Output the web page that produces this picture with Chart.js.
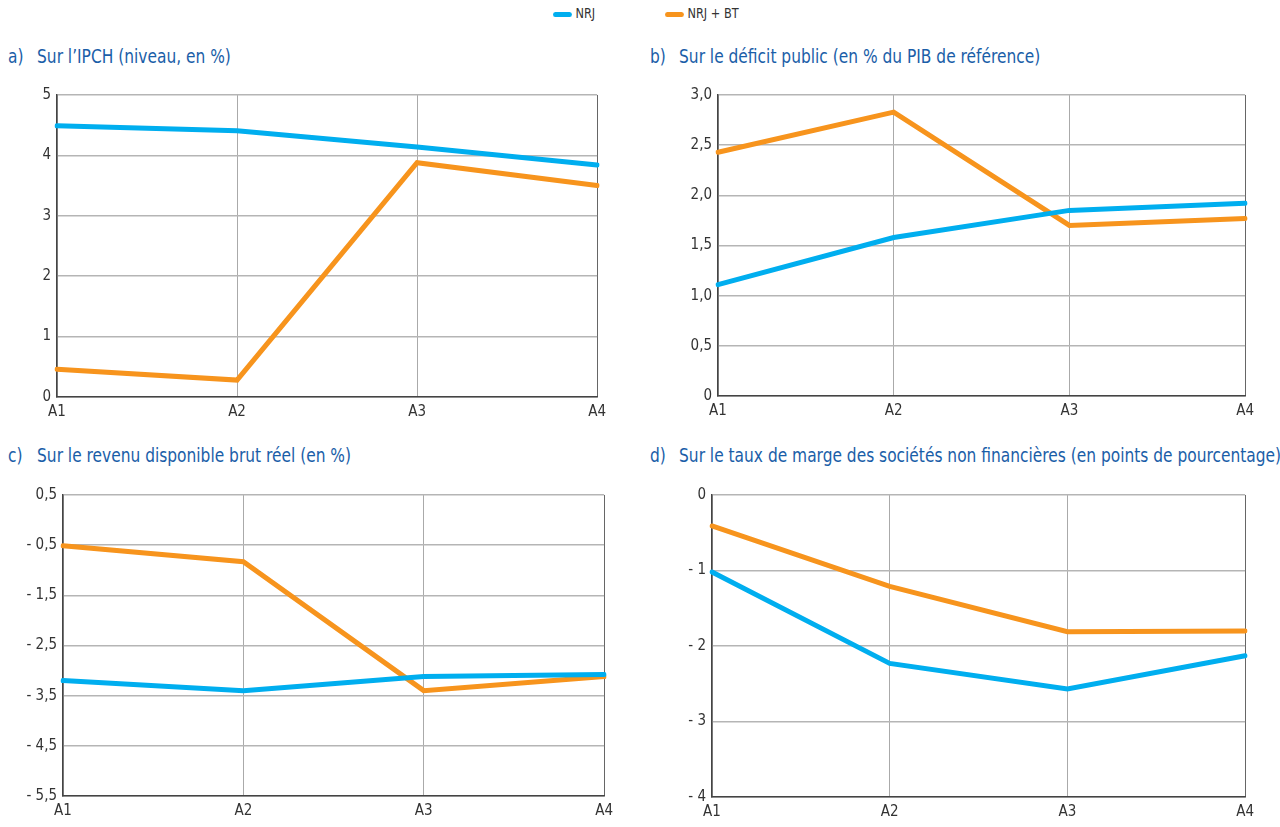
<!DOCTYPE html>
<html>
<head>
<meta charset="utf-8">
<script src="https://cdn.jsdelivr.net/npm/chart.js@4.4.1/dist/chart.umd.min.js"></script>
<style>
  body { margin: 0; background: #fff; width: 1280px; height: 827px; position: relative; overflow: hidden;
         font-family: 'Liberation Sans Narrow', 'DejaVu Sans Condensed', 'Roboto Condensed', 'Liberation Sans', sans-serif; }
  .legend { position: absolute; top: 5px; font-size: 14px; color: #333; transform: scaleX(0.9); transform-origin: left top; }
  .legend i { display: inline-block; width: 21px; height: 5px; border-radius: 3px; vertical-align: middle; margin-right: 4px; }
  .title { position: absolute; font-size: 19.5px; color: #1a5ea8; white-space: nowrap; transform: scaleX(0.88); transform-origin: left top; }
  .title span { display: inline-block; width: 33px; }
  canvas { position: absolute; }
</style>
</head>
<body>
<div class="legend" style="left:553px"><i style="background:#00aeef"></i>NRJ</div>
<div class="legend" style="left:665px"><i style="background:#f7941d"></i>NRJ + BT</div>

<div class="title" style="left:8px; top:45px"><span>a)</span>Sur l’IPCH (niveau, en %)</div>
<div class="title" style="left:650px; top:45px"><span>b)</span>Sur le déficit public (en % du PIB de référence)</div>
<div class="title" style="left:8px; top:444px"><span>c)</span>Sur le revenu disponible brut réel (en %)</div>
<div class="title" style="left:650px; top:444px"><span>d)</span>Sur le taux de marge des sociétés non financières (en points de pourcentage)</div>

<canvas id="chartA" width="612" height="343" style="left:0px; top:80px"></canvas>
<canvas id="chartB" width="620" height="342" style="left:640px; top:80px"></canvas>
<canvas id="chartC" width="619" height="342" style="left:0px; top:480px"></canvas>
<canvas id="chartD" width="620" height="343" style="left:640px; top:480px"></canvas>

<script>
// Data
var categories = ['A1', 'A2', 'A3', 'A4'];

var ipchNrj = [4.49, 4.41, 4.14, 3.84];
var ipchNrjBt = [0.46, 0.28, 3.88, 3.50];
var ipchTicks = [0, 1, 2, 3, 4, 5];

var deficitNrj = [1.11, 1.58, 1.85, 1.92];
var deficitNrjBt = [2.43, 2.83, 1.70, 1.77];
var deficitTicks = [0, 0.5, 1, 1.5, 2, 2.5, 3];

var rdbNrj = [-3.20, -3.40, -3.12, -3.08];
var rdbNrjBt = [-0.51, -0.83, -3.40, -3.12];
var rdbTicks = [-5.5, -4.5, -3.5, -2.5, -1.5, -0.5, 0.5];

var margeNrj = [-1.02, -2.23, -2.57, -2.13];
var margeNrjBt = [-0.41, -1.21, -1.81, -1.80];
var margeTicks = [-4, -3, -2, -1, 0];

var FONT = "'Liberation Sans Narrow', 'DejaVu Sans Condensed', 'Roboto Condensed', 'Liberation Sans', sans-serif";

function fmt(v, decimals) {
    if (Math.abs(v) < 1e-9) return '0';
    var s = Math.abs(v).toFixed(decimals).replace('.', ',');
    return v < 0 ? '- ' + s : s;
}

function makeChart(id, nrj, nrjBt, ticks, decimals, yWidth) {
    var ctx = document.getElementById(id).getContext('2d');
    return new Chart(ctx, {
        type: 'line',
        data: {
            labels: categories,
            datasets: [{
                label: 'NRJ',
                data: nrj,
                borderColor: '#00aeef',
                borderWidth: 5,
                pointRadius: 0,
                borderCapStyle: 'round',
                tension: 0
            }, {
                label: 'NRJ + BT',
                data: nrjBt,
                borderColor: '#f7941d',
                borderWidth: 5,
                pointRadius: 0,
                borderCapStyle: 'round',
                tension: 0
            }]
        },
        options: {
            responsive: false,
            animation: false,
            layout: { padding: { top: 6, right: 14, left: 0, bottom: 0 } },
            plugins: { legend: { display: false }, tooltip: { enabled: false } },
            scales: {
                x: {
                    offset: false,
                    grid: {
                        drawTicks: false,
                        color: function (c) { return c.index === categories.length - 1 ? '#666' : '#aaa'; },
                        lineWidth: 1
                    },
                    border: { color: '#444', width: 1.5 },
                    ticks: { padding: 6, color: '#333', font: { family: FONT, size: 15 } },
                    afterFit: function (scale) { scale.height = 26; }
                },
                y: {
                    min: ticks[0],
                    max: ticks[ticks.length - 1],
                    afterBuildTicks: function (scale) {
                        scale.ticks = ticks.map(function (v) { return { value: v }; });
                    },
                    grid: { drawTicks: false, color: '#b5b5b5', lineWidth: 1.5 },
                    border: { color: '#444', width: 1.5 },
                    ticks: {
                        padding: 6,
                        color: '#333',
                        font: { family: FONT, size: 15 },
                        callback: function (v) { return fmt(v, decimals); }
                    },
                    afterFit: function (scale) { scale.width = yWidth; }
                }
            }
        }
    });
}

makeChart('chartA', ipchNrj, ipchNrjBt, ipchTicks, 0, 57);
makeChart('chartB', deficitNrj, deficitNrjBt, deficitTicks, 1, 78);
makeChart('chartC', rdbNrj, rdbNrjBt, rdbTicks, 1, 63);
makeChart('chartD', margeNrj, margeNrjBt, margeTicks, 0, 72);
</script>
</body>
</html>
